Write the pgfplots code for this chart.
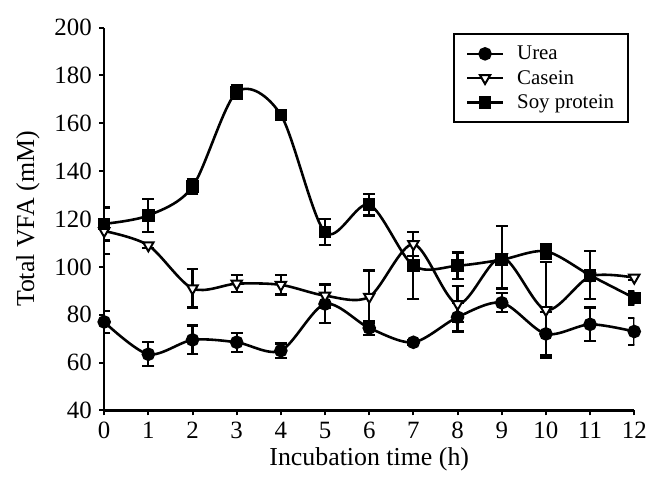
\documentclass[border=0pt]{standalone}
\usepackage{pgfplots}
\pgfplotsset{compat=1.18}
\usepackage{fontspec}
\setmainfont{Liberation Serif}

\pgfplotstableread{
x y e
0 77 4.5
1 63.5 5
2 69.5 6
3 68.5 4
4 65 3
5 84.5 8
6 74.5 3
7 68.5 1
8 79 6
9 85 4
10 72 9
11 76 7
12 73 5.5
}\urea
\pgfplotstableread{
x y e
0 115 9.5
1 109 1
2 91 8
3 93 3.5
4 92.5 4
5 88 5
6 87.5 11
7 109.5 5
8 84.5 7.5
9 104 13
10 82 20
11 96 2
12 95.5 1
}\casein
\pgfplotstableread{
x y e
0 118 7
1 121.5 7
2 133.5 3
3 173 3
4 163.5 1.5
5 114.5 5.5
6 126 4.5
7 100.5 14
8 100.5 5.5
9 103 2
10 106.5 3
11 96.5 10
12 87 3
}\soy

\begin{document}
\begin{tikzpicture}
\begin{axis}[
  scale only axis, width=533bp, height=385bp,
  xmin=0, xmax=12, ymin=40, ymax=200,
  xtick={0,...,12}, ytick={40,60,...,200},
  axis lines=left, axis line style={-, line width=2.4bp},
  tick style={line width=2bp, black}, tick align=outside,
  major tick length=5bp,
  /pgf/number format/assume math mode=true,
  tick label style={font=\fontsize{25bp}{30bp}\selectfont},
  yticklabel style={xshift=-4bp},
  xticklabel style={yshift=-3bp},
  label style={font=\fontsize{26bp}{31bp}\selectfont},
  xlabel={Incubation time (h)}, ylabel={Total VFA (mM)},
  ylabel style={yshift=8bp},
  xlabel style={yshift=-2bp},
  legend style={at={(0.99,0.985)}, anchor=north east, draw=black, line width=2bp,
    font=\fontsize{21bp}{24bp}\selectfont, row sep=5bp, inner xsep=12bp, inner ysep=10bp,
    /tikz/every odd column/.append style={column sep=11bp}},
  legend cell align=left,
  legend image code/.code={%
    \path[draw=none, fill=none] (0bp,-6bp) rectangle (36bp,6bp);
    \draw[#1] (0bp,0bp) -- (36bp,0bp);
    \draw[#1, only marks] plot coordinates {(18bp,0bp)};},
  every axis plot/.append style={line width=2.6bp, black},
  error bars/error bar style={line width=2.2bp},
  error bars/error mark options={rotate=90, mark size=6bp, line width=2.2bp},
]
\addplot[smooth, line width=2.6bp, mark=*, mark size=5.5bp,
  error bars/.cd, y dir=both, y explicit]
  table[x=x, y=y, y error=e] {\urea};
\addlegendentry{Urea}
\addplot[smooth, line width=2.6bp, mark=triangle*, mark size=6bp, mark options={rotate=180, fill=white, line width=2bp},
  error bars/.cd, y dir=both, y explicit]
  table[x=x, y=y, y error=e] {\casein};
\addlegendentry{Casein}
\addplot[smooth, line width=2.6bp, mark=square*, mark size=5bp,
  error bars/.cd, y dir=both, y explicit]
  table[x=x, y=y, y error=e] {\soy};
\addlegendentry{Soy protein}
\end{axis}
\path ([xshift=-13bp,yshift=-20bp]current bounding box.south west) ([yshift=16bp]current bounding box.north east);
\end{tikzpicture}
\end{document}
